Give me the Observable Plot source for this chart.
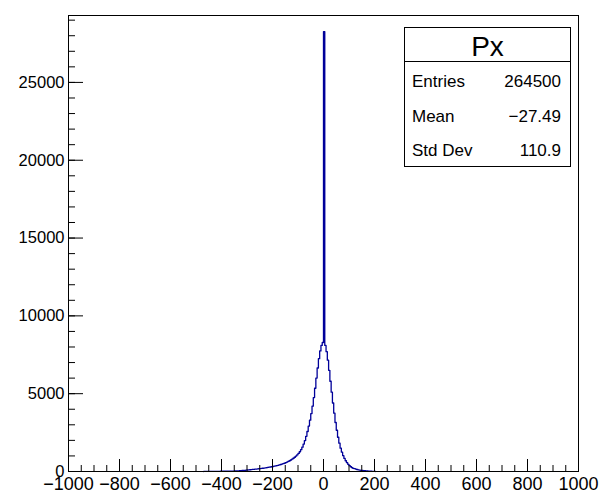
<!DOCTYPE html>
<html>
<head>
<meta charset="utf-8">
<script src="https://cdn.jsdelivr.net/npm/d3@7"></script>
<script src="https://cdn.jsdelivr.net/npm/@observablehq/plot@0.6"></script>
<style>
  html, body { margin: 0; padding: 0; background: #fff; }
  #chart { position: relative; width: 604px; height: 497px; }
</style>
</head>
<body>
<div id="chart"></div>
<script>
// ---- data ----
const binStart = -470;   // lower edge of first filled bin
const binWidth = 5;      // histogram bin width
const counts = [
  2, 3, 4, 5, 6, 7, 8, 9, 10, 11,             // -470 .. -425
  12, 13, 14, 15, 16, 18, 19, 20, 21, 22,     // -420 .. -375
  24, 25, 27, 30, 33, 37, 41, 46, 52, 58,     // -370 .. -325
  64, 70, 78, 86, 95, 103, 112, 121, 132, 140,// -320 .. -275
  150, 158, 167, 178, 190, 200, 210, 220, 232, 245, // -270 .. -225
  260, 275, 290, 305, 320, 340, 360, 380, 400, 425, // -220 .. -175
  450, 475, 500, 530, 565, 605, 645, 690, 740, 790, // -170 .. -125
  850, 915, 990, 1070, 1160, 1270, 1400, 1560, 1760, 1990, // -120 .. -75
  2260, 2570, 2920, 3300, 3720, 4200, 4750, 5350, 6000, 6650, // -70 .. -25
  7250, 7750, 8100, 8290,                      // -20 .. -5
  28270,                                       // 0 (spike)
  8100, 7700, 7150, 6500, 5800, 5100, 4400, 3750, 3150, // 5 .. 45
  2650, 2200, 1820, 1500, 1240, 1020, 840, 690, 565, 460, // 50 .. 95
  375, 305, 248, 200, 180, 155, 130, 108, 90, 78, // 100 .. 145
  68, 58, 48, 40, 32, 26, 20, 15, 11, 8, 5     // 150 .. 200
];
const xMajor = [-1000, -800, -600, -400, -200, 0, 200, 400, 600, 800, 1000];
const xMinor = d3.range(-1000, 1001, 50);
const yMajor = [0, 5000, 10000, 15000, 20000, 25000];
const yMinor = d3.range(0, 29001, 1000);
const xDomain = [-1000, 1000];
const yDomain = [0, 29300];

const statsTitle = "Px";
const statsLabels = ["Entries", "Mean", "Std Dev"];
const statsValues = ["264500", "\u221227.49", "110.9"];

// ---- build step outline from the bins ----
const steps = [{x: binStart, y: 0}];
counts.forEach((c, i) => {
  const lo = binStart + i * binWidth;
  steps.push({x: lo, y: c}, {x: lo + binWidth, y: c});
});
steps.push({x: binStart + counts.length * binWidth, y: 0});

const W = 604, H = 497;
const mL = 68, mR = 26, mT = 15, mB = 26;
const innerW = W - mL - mR, innerH = H - mT - mB;
const fmt = d3.format("d");
const font = "'Liberation Sans', Arial, Helvetica, sans-serif";

const plot = Plot.plot({
  width: W, height: H,
  marginLeft: mL, marginRight: mR, marginTop: mT, marginBottom: mB,
  style: {fontFamily: font, fontSize: "17px", color: "#000", background: "#fff"},
  x: {domain: xDomain, label: null},
  y: {domain: yDomain, label: null},
  marks: [
    Plot.line(steps, {x: "x", y: "y", stroke: "#000099", strokeWidth: 1.3}),
    // inward ticks
    Plot.ruleX(xMajor, {x: d => d, insetTop: innerH - 12, stroke: "#000"}),
    Plot.ruleX(xMinor, {x: d => d, insetTop: innerH - 6, stroke: "#000"}),
    Plot.ruleY(yMajor, {y: d => d, insetRight: innerW - 15, stroke: "#000"}),
    Plot.ruleY(yMinor, {y: d => d, insetRight: innerW - 7, stroke: "#000"}),
    Plot.axisX(xMajor, {tickSize: 0, tickPadding: 6, tickFormat: fmt, fontSize: 18}),
    Plot.axisY(yMajor, {tickSize: 0, tickPadding: 4, tickFormat: fmt, fontSize: 16.5}),
    Plot.frame({stroke: "#000"})
  ]
});
document.getElementById("chart").appendChild(plot);

// ---- statistics box ----
const svg = d3.select(plot);
const g = svg.append("g").attr("font-family", font).attr("fill", "#000")
  .attr("text-anchor", "start");
const bx = 404.5, by = 27.5, bw = 166, bh = 139, sepY = 61.5;
g.append("rect").attr("x", bx).attr("y", by).attr("width", bw).attr("height", bh)
  .attr("fill", "#fff").attr("stroke", "#000");
g.append("line").attr("x1", bx).attr("x2", bx + bw).attr("y1", sepY).attr("y2", sepY)
  .attr("stroke", "#000");
g.append("text").attr("x", bx + bw / 2).attr("y", 56).attr("text-anchor", "middle")
  .attr("font-size", 28).text(statsTitle);
const rowY = [87, 122, 156];
statsLabels.forEach((lab, i) => {
  g.append("text").attr("x", 412).attr("y", rowY[i]).attr("font-size", 17)
    .attr("text-anchor", "start").text(lab);
  g.append("text").attr("x", 561).attr("y", rowY[i]).attr("font-size", 17)
    .attr("text-anchor", "end").text(statsValues[i]);
});
</script>
</body>
</html>
